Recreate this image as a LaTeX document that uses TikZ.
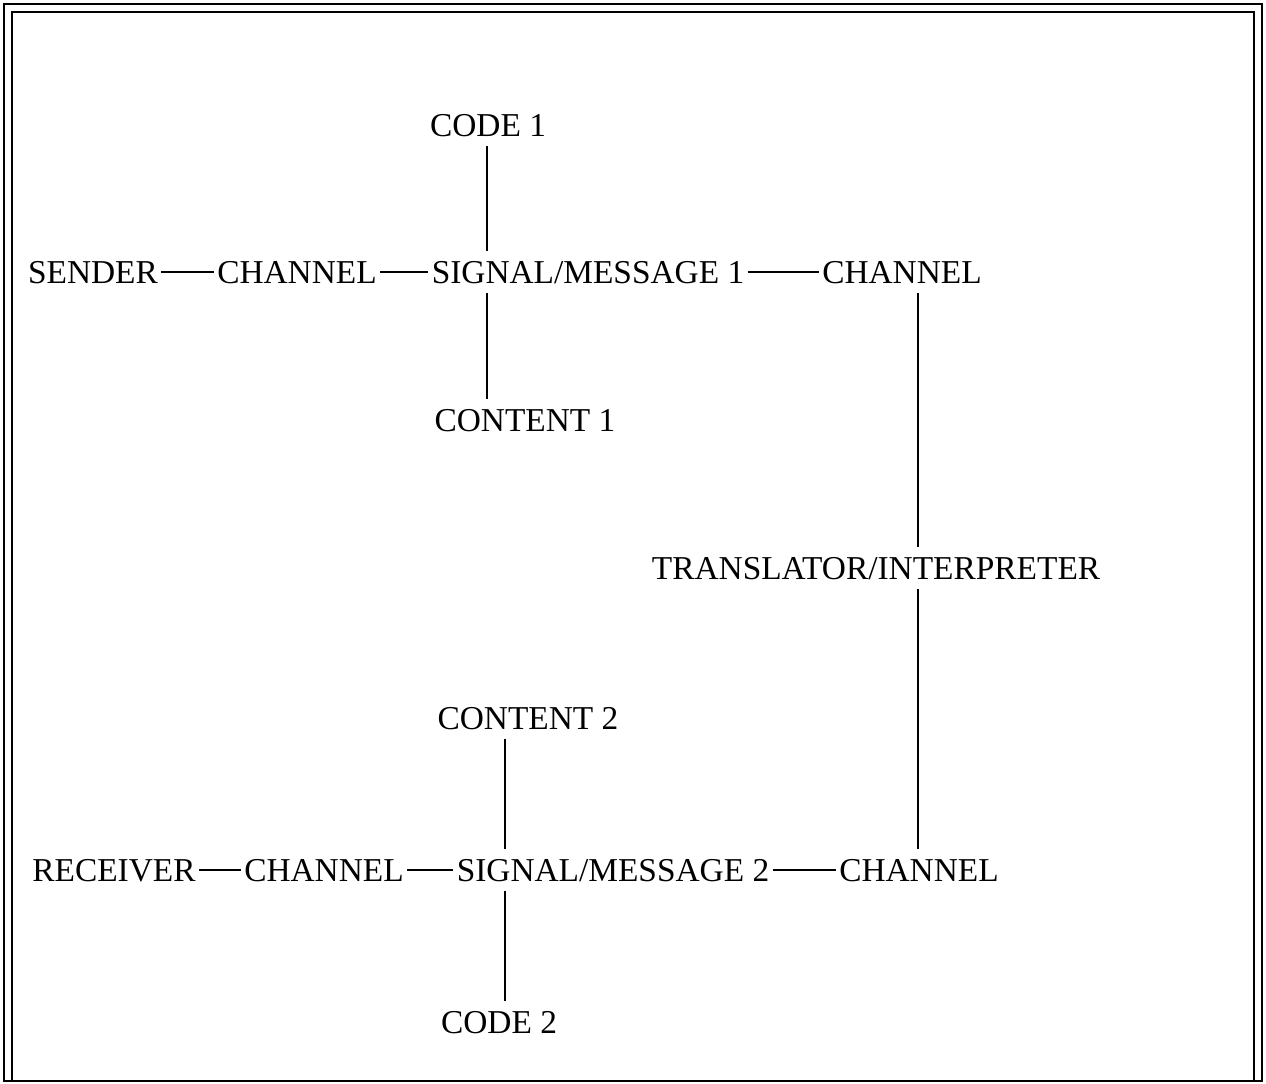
\documentclass[tikz,border=0pt]{standalone}
\usepackage{fontspec}
\setmainfont{Liberation Serif}
\usepackage{tikz}
\usetikzlibrary{positioning}
\tikzstyle{lbl}=[inner xsep=0.06cm, inner ysep=0.2cm, text height=12.6pt, text depth=0pt, font=\fontsize{19}{23}\selectfont]
\tikzstyle{ln}=[line width=0.8pt]
\tikzstyle{frm}=[line width=1.6pt]

\begin{document}
\begin{tikzpicture}[x=0.02cm,y=-0.02cm]
      \useasboundingbox (0,0) rectangle (1266,1083);
      % frame
      \draw [frm] (4,4) rectangle (1262,1081);
      \draw [frm] (12,1081) -- (12,12) -- (1254,12) -- (1254,1081);
      % upper chain
      \node [lbl] (code1) at (488,125) {CODE 1};
      \node [lbl] (sender) at (93,272) {SENDER};
      \node [lbl] (chan1) at (297,272) {CHANNEL};
      \node [lbl] (sig1) at (588,272) {SIGNAL/MESSAGE 1};
      \node [lbl] (chan2) at (902,272) {CHANNEL};
      \node [lbl] (content1) at (525,420) {CONTENT 1};
      \node [lbl] (trans) at (876,568) {TRANSLATOR/INTERPRETER};
      % lower chain
      \node [lbl] (content2) at (528,718) {CONTENT 2};
      \node [lbl] (receiver) at (114,870) {RECEIVER};
      \node [lbl] (chan3) at (324,870) {CHANNEL};
      \node [lbl] (sig2) at (613,870) {SIGNAL/MESSAGE 2};
      \node [lbl] (chan4) at (919,870) {CHANNEL};
      \node [lbl] (code2) at (499,1022) {CODE 2};
      \coordinate (up) at (487,0);
      \coordinate (rt) at (918,0);
      \coordinate (dn) at (505,0);
      \draw [ln] (sender) -- (chan1);
      \draw [ln] (chan1) -- (sig1);
      \draw [ln] (sig1) -- (chan2);
      \draw [ln] (up |- code1.south) -- (up |- sig1.north);
      \draw [ln] (up |- sig1.south) -- (up |- content1.north);
      \draw [ln] (rt |- chan2.south) -- (rt |- trans.north);
      \draw [ln] (rt |- trans.south) -- (rt |- chan4.north);
      \draw [ln] (receiver) -- (chan3);
      \draw [ln] (chan3) -- (sig2);
      \draw [ln] (sig2) -- (chan4);
      \draw [ln] (dn |- content2.south) -- (dn |- sig2.north);
      \draw [ln] (dn |- sig2.south) -- (dn |- code2.north);
\end{tikzpicture}
\end{document}
